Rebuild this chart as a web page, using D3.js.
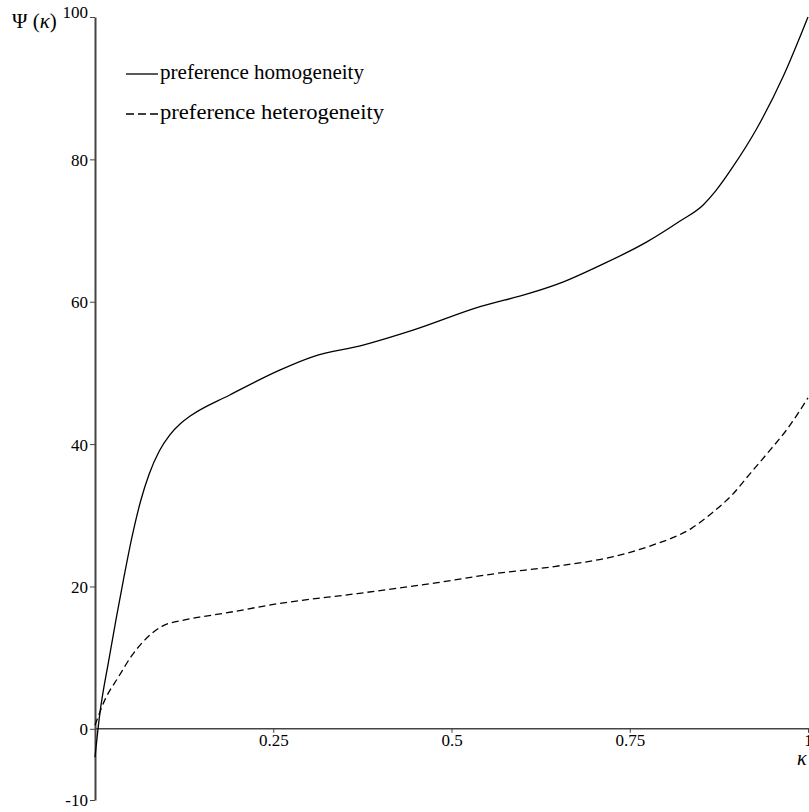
<!DOCTYPE html>
<html lang="en">
<head>
    <meta charset="UTF-8">
    <title>Psi(kappa)</title>
    <script src="https://d3js.org/d3.v7.min.js"></script>
    <style>
        body { margin: 0; background: #fff; }
        text { font-family: "Liberation Serif", "Times New Roman", serif; fill: #000; }
        .axis path, .axis line { stroke: #444; }
    </style>
</head>
<body>
<svg width="809" height="812"></svg>
<script>
// values
var kappaHom = [0, 0.006, 0.020, 0.040, 0.052, 0.064, 0.076, 0.090, 0.105, 0.120, 0.133, 0.189,
                0.259, 0.306, 0.376, 0.446, 0.540, 0.610, 0.657, 0.704, 0.774, 0.820, 0.853,
                0.870, 0.895, 0.928, 0.965, 1.0];
var psiHom   = [-4.0, 1.5, 10, 21, 27, 32, 35.8, 39, 41.3, 42.9, 43.9, 46.9,
                50.4, 52.3, 53.9, 56, 59.3, 61.2, 62.8, 64.9, 68.4, 71.3, 73.6,
                75.5, 79, 84.3, 91.6, 100];

var kappaHet = [0, 0.014, 0.033, 0.051, 0.070, 0.094, 0.126, 0.147, 0.173, 0.258, 0.368, 0.478,
                0.561, 0.644, 0.727, 0.782, 0.837, 0.865, 0.893, 0.920, 0.948, 0.970, 1.0];
var psiHet   = [0.5, 4.1, 7.3, 10.2, 12.5, 14.4, 15.3, 15.7, 16.1, 17.6, 19.0, 20.5,
                21.8, 22.8, 24.2, 25.8, 28.2, 30.3, 32.8, 36.0, 39.3, 42.0, 46.5];

var xTicks = [0.25, 0.5, 0.75, 1];
var xTickLabels = ["0.25", "0.5", "0.75", "1"];
var yTicks = [-10, 0, 20, 40, 60, 80, 100];
var yTickLabels = ["-10", "0", "20", "40", "60", "80", "100"];

var seriesNames = ["preference homogeneity", "preference heterogeneity"];

var svg = d3.select("svg");

var x = d3.scaleLinear().domain([0, 1]).range([95, 808]);
var y = d3.scaleLinear().domain([-10, 100]).range([800, 17]);

// y axis
var yAxis = svg.append("g")
    .attr("class", "axis")
    .attr("transform", "translate(" + x(0) + ",0)")
    .call(d3.axisLeft(y).tickValues(yTicks)
        .tickFormat(function (d, i) { return yTickLabels[i]; })
        .tickSize(5).tickSizeOuter(0));
yAxis.select(".domain").attr("stroke-width", 2);
yAxis.selectAll("text")
    .style("font-size", "17px")
    .style("font-family", "Liberation Serif, serif")
    .attr("fill", "#000")
    .attr("x", -7)
    .attr("dy", "0.35em");
yAxis.selectAll(".tick")
    .filter(function (d) { return d === 100; })
    .select("text").attr("dy", "0.05em");

// x axis at y = 0
var xAxis = svg.append("g")
    .attr("class", "axis")
    .attr("transform", "translate(0," + y(0) + ")")
    .call(d3.axisBottom(x).tickValues(xTicks)
        .tickFormat(function (d, i) { return xTickLabels[i]; })
        .tickSize(4).tickSizeOuter(0));
xAxis.select(".domain").attr("d", "M" + x(0) + ",0H809").attr("stroke-width", 1.6);
xAxis.selectAll("text")
    .style("font-size", "17px")
    .style("font-family", "Liberation Serif, serif")
    .attr("fill", "#000")
    .attr("y", 5);

// axis titles
svg.append("text")
    .attr("x", 12).attr("y", 28)
    .style("font-size", "21px")
    .html('&#936; (<tspan font-style="italic">&#954;</tspan>)');

svg.append("text")
    .attr("x", 797).attr("y", 765)
    .style("font-size", "20px")
    .style("font-style", "italic")
    .text("\u03ba");

// curves
var line = d3.line()
    .x(function (d) { return x(d[0]); })
    .y(function (d) { return y(d[1]); })
    .curve(d3.curveMonotoneX);

var homData = kappaHom.map(function (k, i) { return [k, psiHom[i]]; });
var hetData = kappaHet.map(function (k, i) { return [k, psiHet[i]]; });

svg.append("path")
    .datum(homData)
    .attr("d", line)
    .attr("fill", "none")
    .attr("stroke", "#000")
    .attr("stroke-width", 1.3);

svg.append("path")
    .datum(hetData)
    .attr("d", line)
    .attr("fill", "none")
    .attr("stroke", "#000")
    .attr("stroke-width", 1.3)
    .attr("stroke-dasharray", "7,4");

// legend
var legendY = [74, 114];
var dashes = [null, "8,4"];
var legendWidth = [204, 224];
seriesNames.forEach(function (name, i) {
    svg.append("line")
        .attr("x1", 126).attr("x2", 158)
        .attr("y1", legendY[i]).attr("y2", legendY[i])
        .attr("stroke", "#000")
        .attr("stroke-width", 1.3)
        .attr("stroke-dasharray", dashes[i]);
    svg.append("text")
        .attr("x", 160).attr("y", legendY[i] + 5)
        .style("font-size", "20px")
        .attr("textLength", legendWidth[i])
        .attr("lengthAdjust", "spacingAndGlyphs")
        .text(name);
});
</script>
</body>
</html>
